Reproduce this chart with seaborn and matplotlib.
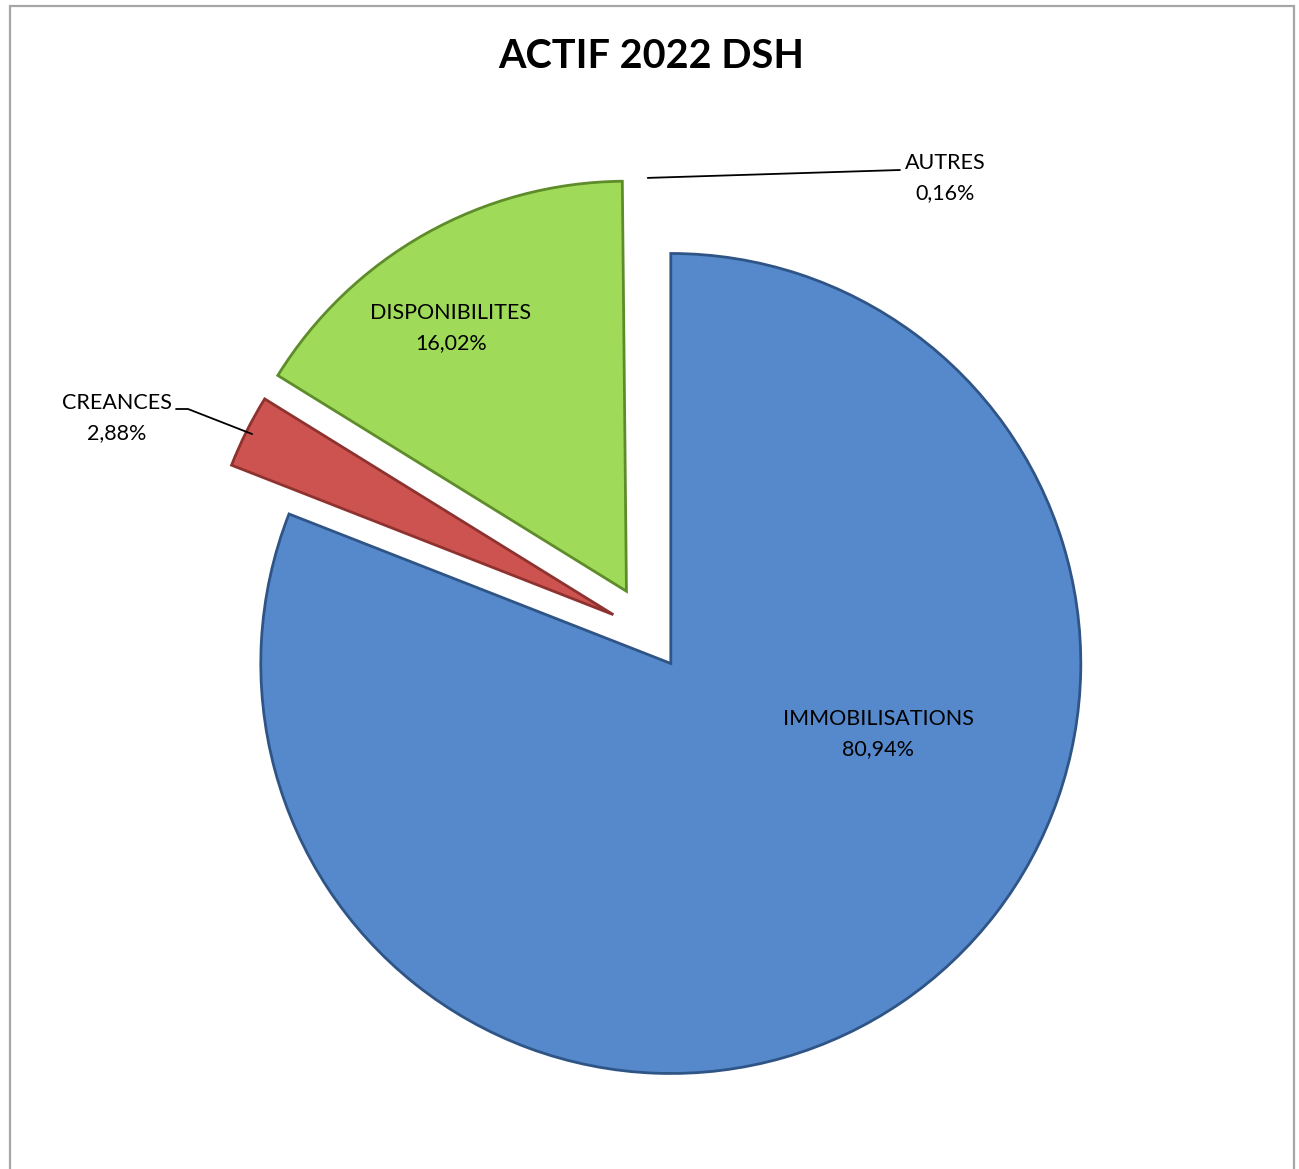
import matplotlib
matplotlib.use("Agg")
import matplotlib.pyplot as plt
import seaborn as sns
import numpy as np
from matplotlib.patches import Rectangle

categories = ["IMMOBILISATIONS", "CREANCES", "DISPONIBILITES", "AUTRES"]
values = [80.94, 2.88, 16.02, 0.16]
pct_labels = ["80,94%", "2,88%", "16,02%", "0,16%"]
title = "ACTIF 2022 DSH"

colors = ["#5689CB", "#CD5350", "#9FDB58", "#FFFFFF"]
edges = ["#2F5486", "#8E3230", "#5E8C2A", "none"]

sns.set_theme(style="white")
plt.rcParams['font.family'] = ['Lato', 'DejaVu Sans']

W, H = 1299, 1169
fig = plt.figure(figsize=(W / 100, H / 100), dpi=100)
ax = fig.add_axes([0, 0, 1, 1])

R = 410
cx, cy = 650, H - 633
explode_frac = [0.09, 0.10, 0.117, 0.11]
wedges, _ = ax.pie(values, colors=colors, startangle=90, counterclock=False,
                   radius=R, center=(cx, cy),
                   explode=[e * R for e in explode_frac],
                   wedgeprops=dict(linewidth=0),
                   frame=True)
for w, ec in zip(wedges, edges):
    w.set_edgecolor(ec)
    w.set_linewidth(2.0)
    w.set_joinstyle("miter")
ax.set_xlim(0, W)
ax.set_ylim(0, H)
ax.set_aspect("equal")
ax.axis("off")

# border of the chart area
ax.add_patch(Rectangle((10, -20), 1284, H - 6 + 20, fill=False,
                       edgecolor="#A6A6A6", linewidth=1.6, zorder=0))

fig.text(651 / W, 1 - 56 / H, title, ha="center", va="center",
         fontsize=28.5, fontweight="bold", color="black")

fs = 15.5
def label_at(i, px, py):
    ax.text(px, H - py, f"{categories[i]}\n{pct_labels[i]}", ha="center",
            va="center", fontsize=fs, linespacing=1.65, color="black")

label_at(0, 878, 734)
label_at(2, 451, 328)

def wedge_point(i, rfrac=1.0):
    w = wedges[i]
    th = np.deg2rad((w.theta1 + w.theta2) / 2)
    x0, y0 = w.center
    return x0 + w.r * rfrac * np.cos(th), y0 + w.r * rfrac * np.sin(th)

label_at(1, 117, 418)
px, py = wedge_point(1, 0.985)
ax.plot([176, 188, px], [H - 409, H - 409, py], color="black", lw=1.3)

label_at(3, 945, 178)
px, py = wedge_point(3, 1.0)
ax.plot([px, 900], [py, H - 170], color="black", lw=1.3)

fig.savefig("out.png", dpi=100)
